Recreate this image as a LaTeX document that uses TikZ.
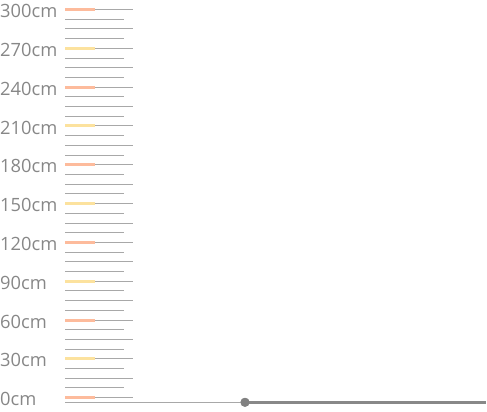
\documentclass[tikz,border=0pt]{standalone}
\usepackage{fontspec}
\setmainfont{Open Sans}
\definecolor{lbl}{HTML}{878787}
\definecolor{tick}{HTML}{A8A8A8}
\definecolor{peach}{HTML}{FDBB9C}
\definecolor{sand}{HTML}{FCE29E}
\definecolor{axis}{HTML}{888888}
\tikzset{
  tickline/.style={draw=tick, line width=1pt},
  barline/.style={line width=3pt},
  label/.style={anchor=west, inner sep=0pt, text=lbl, font=\fontsize{18.3}{19}\selectfont},
}
\begin{document}
\begin{tikzpicture}[x=1pt,y=-1pt]
\useasboundingbox (0,0) rectangle (487,412);
% ticks
\foreach \k in {0,...,40}{
  \pgfmathsetmacro{\yy}{9.5+9.705*\k}
  \pgfmathtruncatemacro{\odd}{mod(\k,2)}
  \ifnum\odd=1
    \draw[tickline] (65,\yy) -- (124,\yy);
  \else
    \draw[tickline] (65,\yy) -- (133,\yy);
  \fi
}
% major bars and labels
\foreach \i/\lab in {0/300,1/270,2/240,3/210,4/180,5/150,6/120,7/90,8/60,9/30,10/0}{
  \pgfmathsetmacro{\yy}{9.5+38.82*\i}
  \pgfmathtruncatemacro{\pp}{mod(\i,2)}
  \ifnum\pp=0
    \draw[barline, peach] (65,\yy) -- (95,\yy);
  \else
    \draw[barline, sand] (65,\yy) -- (95,\yy);
  \fi
  \node[label] (l\i) at (0,\yy+1.5) {\lab cm};
}
% baseline
\coordinate (b0) at (65,402.3);
\node[circle, fill=axis!95!black, minimum size=9pt, inner sep=0pt] (dot) at (245,402.3) {};
\coordinate (b1) at (486,402.3);
\draw[draw=tick, line width=1pt] (b0) -- (dot.center);
\draw[draw=axis, line width=3pt] (dot.center) -- (b1);
\fill[axis!95!black] (dot) circle (4.5pt);
\end{tikzpicture}
\end{document}
